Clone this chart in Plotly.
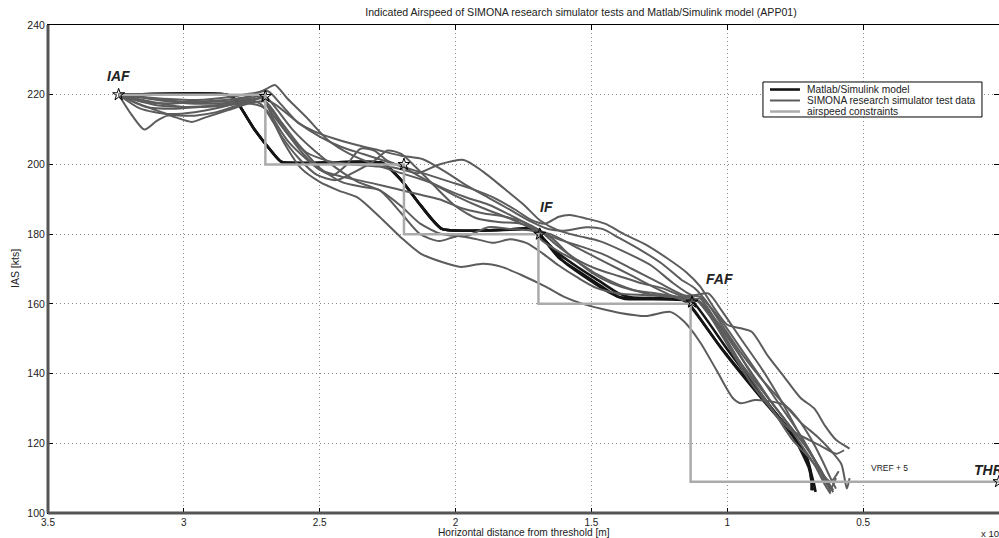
import plotly.graph_objects as go

# ---- data (x in units of 10^4 m, y in kts) ----
model_runs = [
    ([3.24, 2.84, 2.81, 2.74, 2.68, 2.64, 2.27, 2.20, 2.13, 2.05, 1.76, 1.73, 1.69, 1.62, 1.54, 1.47, 1.40, 1.17, 1.14, 1.03, 0.88, 0.77, 0.715, 0.695, 0.688, 0.685],
     [220, 220, 218.5, 210, 204, 200.7, 200.4, 195.5, 188.4, 181.5, 181.5, 181.8, 179.8, 173.2, 169, 165.4, 162, 161.4, 159.7, 148.2, 133.9, 123.8, 116.7, 112.3, 108, 106.5]),
    ([3.24, 2.84, 2.81, 2.74, 2.68, 2.64, 2.27, 2.20, 2.13, 2.05, 1.76, 1.72, 1.68, 1.60, 1.52, 1.44, 1.38, 1.16, 1.13, 1.02, 0.87, 0.76, 0.705, 0.69, 0.68, 0.675],
     [220, 220, 218.5, 210, 204, 200.7, 200.4, 195.5, 188.4, 181.5, 181.5, 182, 179, 172, 167.5, 163.5, 161.5, 161, 159, 147, 132.5, 122.5, 115.5, 111, 108, 106]),
    ([3.24, 2.84, 2.81, 2.74, 2.68, 2.64, 2.27, 2.20, 2.13, 2.05, 1.76, 1.73, 1.70, 1.63, 1.55, 1.47, 1.40, 1.35, 1.15, 1.12, 1.00, 0.86, 0.75, 0.70, 0.69, 0.69],
     [220, 220, 218.5, 210, 204, 200.7, 200.4, 195.5, 188.4, 181.5, 181.5, 181.8, 180.5, 175, 170.5, 166.5, 163, 161.8, 161.2, 160, 147, 132.5, 121, 113, 109, 106.5]),
]

sim_runs = [
    ([3.24, 3.19, 3.145, 3.10, 3.06, 3.0, 2.96, 2.88, 2.80, 2.74, 2.70, 2.66, 2.60, 2.52, 2.44, 2.36, 2.28, 2.20, 2.13, 2.05, 1.96, 1.88, 1.80, 1.72, 1.65, 1.55, 1.45, 1.35, 1.25, 1.16, 1.10, 1.02, 0.95, 0.87, 0.80, 0.74, 0.68, 0.64, 0.62],
     [220, 214, 210, 212.5, 214, 214, 214, 215, 217, 218.5, 219.5, 216, 210, 204, 199, 195, 192.6, 188, 183, 180, 179.5, 182, 181.5, 181, 180, 176, 172, 168, 164, 161, 160.5, 152, 143, 135, 128, 121, 114, 108, 105.5]),
    ([3.24, 3.15, 3.05, 2.95, 2.85, 2.76, 2.70, 2.665, 2.62, 2.55, 2.47, 2.39, 2.30, 2.20, 2.10, 2.00, 1.90, 1.80, 1.70, 1.62, 1.54, 1.45, 1.35, 1.25, 1.16, 1.10, 1.02, 0.94, 0.86, 0.78, 0.72, 0.67, 0.64, 0.62, 0.60],
     [220, 218, 217.5, 218, 218.5, 219.5, 221.5, 222.8, 219, 213.6, 207, 203, 200, 197.5, 195, 191, 187.5, 184.5, 181, 178.5, 176.5, 174, 170, 166, 162.5, 162, 155, 146, 137, 128, 121, 114, 109, 107, 110]),
    ([3.24, 3.12, 3.0, 2.88, 2.78, 2.72, 2.67, 2.61, 2.55, 2.47, 2.38, 2.30, 2.22, 2.14, 2.06, 1.97, 1.90, 1.82, 1.75, 1.69, 1.62, 1.55, 1.47, 1.38, 1.28, 1.20, 1.13, 1.07, 1.02, 0.95, 0.87, 0.80, 0.73, 0.67, 0.63, 0.61],
     [220, 219, 218, 218, 218.5, 219.5, 214, 208, 203.5, 201, 200, 199.5, 199, 197.5, 200, 201.3, 198, 193, 188.5, 184, 181, 179.5, 178, 175, 171, 166, 162.5, 163, 158, 150, 141, 132, 122, 114, 109, 106.5]),
    ([3.24, 3.10, 2.95, 2.85, 2.76, 2.71, 2.66, 2.58, 2.50, 2.42, 2.34, 2.26, 2.18, 2.10, 2.02, 1.94, 1.86, 1.78, 1.72, 1.67, 1.62, 1.58, 1.52, 1.45, 1.38, 1.30, 1.22, 1.15, 1.10, 1.05, 1.00, 0.95, 0.91, 0.85, 0.79, 0.73, 0.68, 0.64, 0.60, 0.55],
     [220, 217, 216.5, 217, 218.5, 219, 217, 212, 208, 205, 203, 201, 199, 197, 195, 193, 190.5, 187, 184, 183, 185, 185.5, 184.5, 183, 180, 177, 173, 169, 165, 159, 154, 153, 152, 145, 139, 133, 130, 125, 121, 118.5]),
    ([3.24, 3.17, 3.10, 3.03, 2.97, 2.92, 2.84, 2.76, 2.70, 2.64, 2.57, 2.50, 2.42, 2.34, 2.28, 2.20, 2.13, 2.06, 1.99, 1.92, 1.86, 1.80, 1.74, 1.68, 1.62, 1.55, 1.48, 1.40, 1.30, 1.20, 1.14, 1.10, 1.04, 0.97, 0.90, 0.83, 0.77, 0.71, 0.66, 0.63, 0.61],
     [220, 217.5, 215.5, 213.5, 212.2, 213.5, 215.5, 217.5, 218, 212, 205, 199, 195, 193.5, 192.6, 186, 180, 178, 179.5, 178.5, 177.5, 178.5, 177.5, 174.5, 171, 167.5, 164.5, 163, 162.5, 162, 161, 161.5, 155, 147, 139, 131, 125, 119, 113, 108.5, 106]),
    ([3.24, 3.16, 3.06, 2.96, 2.86, 2.78, 2.72, 2.67, 2.63, 2.57, 2.50, 2.43, 2.36, 2.28, 2.20, 2.13, 2.05, 1.98, 1.90, 1.83, 1.75, 1.665, 1.60, 1.54, 1.46, 1.395, 1.30, 1.21, 1.16, 1.10, 1.04, 0.98, 0.95, 0.90, 0.84, 0.79, 0.74, 0.69, 0.65, 0.62, 0.60],
     [220, 216, 214.5, 215, 216.5, 218, 217.5, 212, 206, 199, 195, 192.5, 190.5, 185, 179, 174.5, 172, 170.6, 171.5, 170.6, 168, 164.8, 162, 160.2, 158.5, 157.4, 156.5, 157.7, 155, 149, 141, 133, 131.5, 132.4, 132, 131, 127, 121, 115, 110, 107]),
    ([3.24, 3.18, 3.10, 2.98, 2.86, 2.76, 2.71, 2.67, 2.62, 2.57, 2.50, 2.42, 2.36, 2.30, 2.22, 2.14, 2.06, 1.98, 1.90, 1.82, 1.75, 1.69, 1.63, 1.56, 1.48, 1.40, 1.32, 1.24, 1.16, 1.11, 1.06, 0.99, 0.92, 0.85, 0.78, 0.72, 0.67, 0.635, 0.62],
     [220, 219.5, 218.5, 217.5, 217.5, 218, 219, 213, 207, 203, 198.5, 196.5, 195.5, 194.5, 193, 191.5, 190, 187.5, 186, 185, 183.5, 181, 177, 173, 170, 168, 166, 164.5, 162, 161, 157, 150, 141, 133, 126, 120, 114, 109, 106]),
    ([3.24, 3.12, 3.0, 2.88, 2.78, 2.73, 2.68, 2.62, 2.56, 2.50, 2.45, 2.40, 2.35, 2.30, 2.25, 2.20, 2.12, 2.04, 1.96, 1.88, 1.80, 1.73, 1.68, 1.62, 1.55, 1.48, 1.40, 1.30, 1.20, 1.14, 1.09, 1.03, 0.96, 0.89, 0.82, 0.76, 0.70, 0.66, 0.62, 0.59],
     [220, 218, 216.5, 217, 219, 220, 216, 209, 203, 198.5, 197, 200, 204.5, 204, 201, 199.5, 196, 193, 190.5, 188.5, 185.5, 182.5, 178, 175, 172, 168.5, 165.5, 163, 162, 162, 160, 153, 144, 136, 128, 121, 116, 112, 109, 112]),
    ([3.24, 3.14, 3.04, 2.94, 2.84, 2.76, 2.70, 2.64, 2.58, 2.51, 2.44, 2.38, 2.30, 2.25, 2.20, 2.15, 2.08, 2.00, 1.92, 1.84, 1.76, 1.70, 1.64, 1.58, 1.50, 1.43, 1.35, 1.26, 1.18, 1.12, 1.06, 0.99, 0.91, 0.84, 0.77, 0.70, 0.65, 0.60, 0.57],
     [220, 216.5, 216, 216.5, 217, 217.5, 216, 208, 202, 197, 195.5, 197.5, 201, 204, 203, 199.5, 194, 188, 184.5, 183.5, 183, 181.5, 178.5, 174, 169, 166, 164, 163, 162, 161.5, 156, 147, 137, 130, 124, 121, 119, 117, 118]),
    ([3.24, 3.10, 2.95, 2.82, 2.74, 2.69, 2.64, 2.58, 2.52, 2.45, 2.36, 2.28, 2.20, 2.12, 2.04, 1.96, 1.88, 1.80, 1.72, 1.66, 1.60, 1.52, 1.46, 1.40, 1.32, 1.24, 1.17, 1.12, 1.08, 1.02, 0.95, 0.88, 0.80, 0.73, 0.67, 0.62, 0.58, 0.56, 0.55],
     [220, 219, 218.5, 219.5, 220.5, 221, 217, 212, 209.5, 207.5, 205.5, 204, 202.5, 201.5, 198, 194, 190.5, 187, 183.5, 181.5, 181, 182, 181.5, 179, 175.5, 171.5, 167, 164.5, 161, 154, 146, 139, 132, 126, 122, 118, 114, 107, 110]),
]

constraint_x = [3.24, 2.70, 2.70, 2.19, 2.19, 1.695, 1.695, 1.135, 1.135, 0.0, -0.2]
constraint_y = [220, 220, 200, 200, 180, 180, 160, 160, 109, 109, 109]

waypoint_x = [3.24, 2.70, 2.19, 1.69, 1.13, 0.0]
waypoint_y = [220, 219.5, 200, 180, 160.5, 109]

labels = [("IAF", 3.24, 225.5), ("IF", 1.665, 187.8), ("FAF", 1.03, 167.2), ("THR", 0.10, 112.3)]

x_ticks = [3.5, 3, 2.5, 2, 1.5, 1, 0.5, 0]
x_ticklabels = ["3.5", "3", "2.5", "2", "1.5", "1", "0.5", "0"]
y_ticks = [100, 120, 140, 160, 180, 200, 220, 240]

legend_names = ["Matlab/Simulink model", "SIMONA research simulator test data", "airspeed constraints"]

GRAY = "#5c5c5c"
BLACK = "#151515"
LIGHT = "#ababab"
legend_colors = [BLACK, GRAY, LIGHT]
legend_widths = [2.6, 2, 2.5]
FONT = "Liberation Sans, Arial, sans-serif"

fig = go.Figure()

for xs, ys in model_runs:
    fig.add_trace(go.Scatter(x=xs, y=ys, mode="lines", name=legend_names[0], showlegend=False,
                             line=dict(color=BLACK, width=2.6, shape="spline", smoothing=0.5)))

for xs, ys in sim_runs:
    fig.add_trace(go.Scatter(x=xs, y=ys, mode="lines", name=legend_names[1], showlegend=False,
                             line=dict(color=GRAY, width=2, shape="spline", smoothing=0.7)))

fig.add_trace(go.Scatter(x=constraint_x, y=constraint_y, mode="lines", name=legend_names[2],
                         showlegend=False, line=dict(color=LIGHT, width=2.5)))

fig.add_trace(go.Scatter(x=waypoint_x, y=waypoint_y, mode="markers", showlegend=False,
                         marker=dict(symbol="star-open", size=9, color="black", line=dict(width=1))))

for txt, x, y in labels:
    fig.add_annotation(x=x, y=y, text=f"<b><i>{txt}</i></b>", showarrow=False,
                       xanchor="left" if txt == "THR" else "center",
                       font=dict(size=14, color="#222", family=FONT))

fig.add_annotation(x=0.48, y=113, text="VREF + 5", showarrow=False, xanchor="left",
                   font=dict(size=8.5, color="#222"))

# axis titles and exponent
fig.add_annotation(xref="paper", yref="paper", x=(524 - 48) / 951, y=0, yshift=-19.5,
                   text="Horizontal distance from threshold [m]", xanchor="center",
                   showarrow=False, yanchor="middle", font=dict(size=10.2, color="#222"))
fig.add_annotation(xref="paper", yref="paper", x=0, y=0.5, xshift=-33, xanchor="center", yanchor="middle",
                   text="IAS [kts]", textangle=-90,
                   showarrow=False, font=dict(size=10.5, color="#222"))
fig.add_annotation(xref="paper", yref="paper", x=0.979, y=0, yshift=-20, xanchor="left", yanchor="middle",
                   text="x 10<sup>4</sup>", showarrow=False, font=dict(size=9.5, color="#222"))

# thick left / bottom spines
fig.add_shape(type="line", xref="paper", yref="paper", x0=0, x1=0, y0=0, y1=1,
              line=dict(color="#555", width=3))
fig.add_shape(type="line", xref="paper", yref="paper", x0=0, x1=1, y0=0, y1=0,
              line=dict(color="#555", width=3))

# custom compact legend (matches MATLAB legend box)
LX0, LX1, LY0, LY1 = 0.7518, 0.9821, 0.8115, 0.8832
fig.add_shape(type="rect", xref="paper", yref="paper", x0=LX0, x1=LX1, y0=LY0, y1=LY1,
              line=dict(color="black", width=1), fillcolor="white")
row_y = [0.8678, 0.8453, 0.8227]
for name, col, w, ry in zip(legend_names, legend_colors, legend_widths, row_y):
    fig.add_shape(type="line", xref="paper", yref="paper", x0=0.7592, x1=0.7907, y0=ry, y1=ry,
                  line=dict(color=col, width=w))
    fig.add_annotation(xref="paper", yref="paper", x=0.7955, y=ry, text=name, showarrow=False,
                       xanchor="left", yanchor="middle", font=dict(size=10.2, color="#222"))

fig.update_layout(
    width=999, height=538,
    margin=dict(l=48, r=0, t=25, b=25),
    plot_bgcolor="white", paper_bgcolor="white",
    font=dict(family=FONT, size=10, color="#222"),
    title=dict(text="Indicated Airspeed of SIMONA research simulator tests and Matlab/Simulink model (APP01)",
               x=581 / 999, xanchor="center", y=1 - 12 / 538, yanchor="middle", font=dict(size=10.6, color="#222")),
    xaxis=dict(range=[3.5, 0], tickvals=x_ticks, ticktext=x_ticklabels, ticks="inside", ticklen=5,
               tickcolor="black", showline=True, linecolor="black", linewidth=1, mirror="allticks",
               showgrid=True, gridcolor="#8c8c8c", griddash="1px,3px", gridwidth=1, zeroline=False,
               tickfont=dict(size=10)),
    yaxis=dict(range=[100, 240], tickvals=y_ticks, ticks="inside", ticklen=5,
               tickcolor="black", showline=True, linecolor="black", linewidth=1, mirror="allticks",
               showgrid=True, gridcolor="#8c8c8c", griddash="1px,3px", gridwidth=1, zeroline=False,
               tickfont=dict(size=10.5)),
    showlegend=False,
)

fig.write_html("out.html")
